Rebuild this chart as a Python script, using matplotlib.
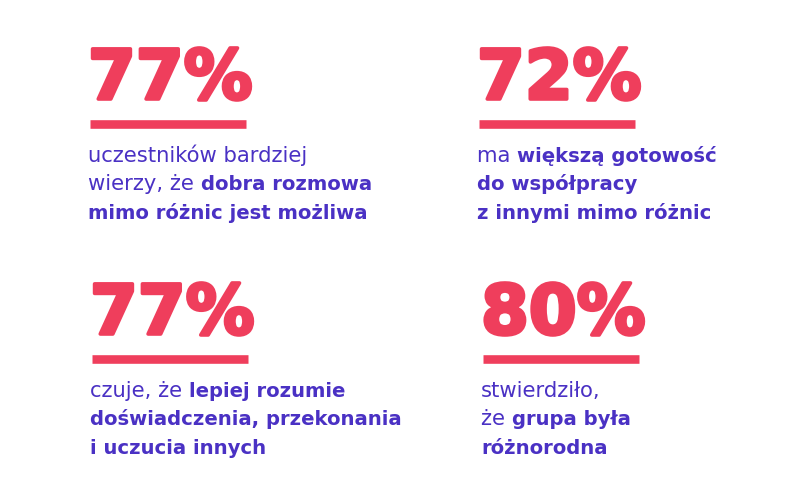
import matplotlib
matplotlib.use("Agg")
from matplotlib import pyplot as plt
from matplotlib import patheffects

RED = "#EF3E5C"
PURPLE = "#4A31C4"

# percentages shown in the four blocks
values = [77, 72, 77, 80]

# caption lines, each line is a list of (text, is_bold) runs
captions = [
    [[("uczestników bardziej", False)],
     [("wierzy, że ", False), ("dobra rozmowa", True)],
     [("mimo różnic jest możliwa", True)]],
    [[("ma ", False), ("większą gotowość", True)],
     [("do współpracy", True)],
     [("z innymi mimo różnic", True)]],
    [[("czuje, że ", False), ("lepiej rozumie", True)],
     [("doświadczenia, przekonania", True)],
     [("i uczucia innych", True)]],
    [[("stwierdziło,", False)],
     [("że ", False), ("grupa była", True)],
     [("różnorodna", True)]],
]

# block anchors (left x, number baseline) in pixels
anchors = [(88, 101), (477, 101), (90, 336), (481, 336)]
bar_len = 156

fig = plt.figure(figsize=(7.99, 4.93), dpi=100)
ax = fig.add_axes([0, 0, 1, 1])
ax.set_xlim(0, 799)
ax.set_ylim(493, 0)
ax.axis("off")

fig.canvas.draw()
renderer = fig.canvas.get_renderer()

for (x0, y0), val, lines in zip(anchors, values, captions):
    ax.text(x0, y0 - 2, f"{val}%", color=RED, fontsize=49.5, fontweight="bold",
            family="DejaVu Sans", va="baseline", ha="left",
            path_effects=[patheffects.withStroke(linewidth=2.6, foreground=RED)])
    ax.hlines(y0 + 23, x0 + 2, x0 + 2 + bar_len, color=RED, linewidth=6.2,
              capstyle="butt")
    for i, runs in enumerate(lines):
        x = x0
        y = y0 + 61 + i * 28.3
        for txt, bold in runs:
            t = ax.text(x, y, txt, color=PURPLE,
                        fontsize=14.1 if bold else 15.2,
                        fontweight="bold" if bold else "normal",
                        family="DejaVu Sans", va="baseline", ha="left")
            bb = t.get_window_extent(renderer)
            x += bb.width

fig.savefig("out.png", dpi=100, facecolor="white")
